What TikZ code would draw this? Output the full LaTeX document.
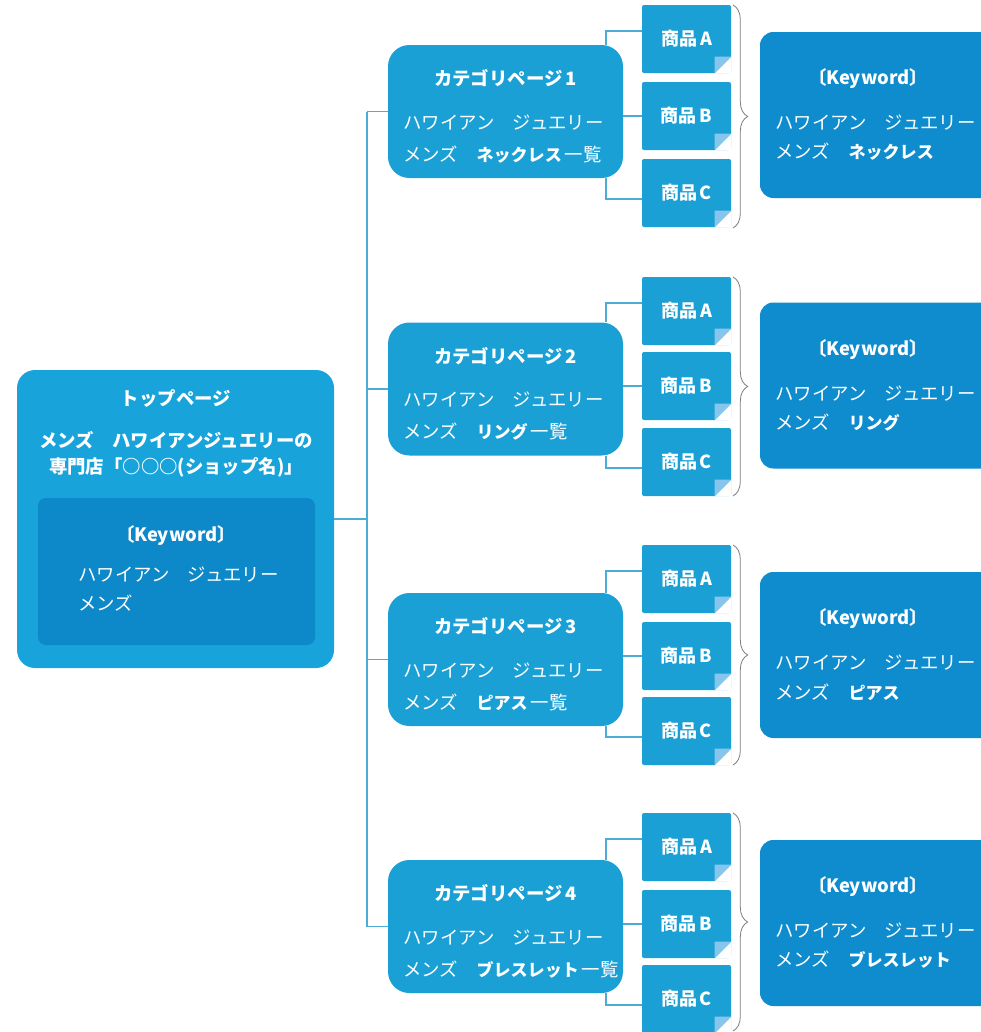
\documentclass[tikz,border=0pt]{standalone}
\usepackage{fontspec}
\setmainfont{Noto Sans CJK JP}
\usetikzlibrary{decorations.pathreplacing,calc}
\definecolor{cmain}{RGB}{27,160,214}
\definecolor{ctop}{RGB}{24,164,219}
\definecolor{cinner}{RGB}{13,136,200}
\definecolor{ckw}{RGB}{14,140,205}
\definecolor{cfold}{RGB}{135,198,236}
\definecolor{cline}{RGB}{75,172,214}
\definecolor{cbrace}{RGB}{125,125,125}
\newcommand{\bw}[1]{{\fontsize{12.8}{16}\selectfont\bfseries #1}}
\begin{document}
\begin{tikzpicture}[x=0.75pt,y=-0.75pt,
  catbox/.style={fill=cmain, rounded corners=16pt, inner sep=0pt, minimum width=176.25pt, minimum height=100pt},
  prodbox/.style={fill=cmain, rounded corners=1.5pt, inner sep=0pt, minimum width=66.75pt, minimum height=51pt,
     text=white, font=\fontsize{13.5}{16}\selectfont\bfseries},
  kwbox/.style={fill=ckw, rounded corners=10pt, inner sep=0pt, minimum width=195pt, minimum height=124.5pt},
  txt/.style={text=white, inner sep=0pt, font=\fontsize{13.8}{16}\selectfont},
  btxt/.style={text=white, inner sep=0pt, font=\fontsize{13.8}{16}\selectfont\bfseries},
  conn/.style={draw=cline, line width=1.3pt},
  brc/.style={draw=cbrace, line width=0.6pt, decorate, decoration={brace, amplitude=11pt}},
  fold/.style={fill=cfold}
]
\useasboundingbox (0,0) rectangle (981,1032);
\clip (0,0) rectangle (981,1032);

% top page
\node[fill=ctop, rounded corners=13.5pt, minimum width=237.75pt, minimum height=223.5pt, inner sep=0pt] (top) at (175.5,519) {};
\node[fill=cinner, rounded corners=6pt, minimum width=207.75pt, minimum height=110.25pt, inner sep=0pt] (inner) at (176.5,571.5) {};
\node[btxt] (toptitle) at (176,398) {トップページ};
\node[btxt] (topl1) at (176,440) {メンズ　ハワイアンジュエリーの};
\node[btxt] (topl2) at (176,467) {専門店「○○○(ショップ名)」};
\node[btxt] (topkw) at (176,536) {〔Keyword〕};
\node[txt, anchor=west] (topk1) at (78,575) {ハワイアン　ジュエリー};
\node[txt, anchor=west] (topk2) at (78,603) {メンズ};

\foreach \i/\cy/\pa/\pb/\pc/\kc/\bt/\bb/\w in {
  1/111.5/39/116/193/115/5/228/ネックレス,
  2/389/311/386/462/385.5/277/496/リング,
  3/659.5/579/656/731/655/545/765/ピアス,
  4/926.5/847/924/999/923/813/1031/ブレスレット}{
  % category
  \node[catbox, minimum height=99.75pt] (c\i) at (505.5,\cy) {};
  \node[btxt] (ct\i) at (505.5,\cy-33) {カテゴリページ\,\i};
  \node[txt, anchor=west] (cl\i) at (403,\cy+11) {ハワイアン　ジュエリー};
  \node[txt, anchor=west] (cm\i) at (403,\cy+43) {メンズ　\bw{\w}\,一覧};
  % products
  \node[prodbox] (pa\i) at (686.5,\pa) {商品\,A};
  \node[prodbox] (pb\i) at (686.5,\pb) {商品\,B};
  \node[prodbox] (pc\i) at (686.5,\pc) {商品\,C};
  \foreach \p in {pa\i,pb\i,pc\i}{
    \fill[white] (\p.south east) -- ([xshift=-12.5pt]\p.south east) -- ([yshift=12.5pt]\p.south east) -- cycle;
    \fill[fold] ([xshift=-12.5pt]\p.south east) -- ([yshift=12.5pt]\p.south east) -- ([xshift=-12.5pt,yshift=12.5pt]\p.south east) -- cycle;
  }
  % connectors category -> products
  \draw[conn] ([xshift=-12.75pt]c\i.north east) |- ([yshift=6pt]pa\i.west);
  \draw[conn] (c\i.east |- pb\i.west) -- (pb\i.west);
  \draw[conn] ([xshift=-12.75pt]c\i.south east) |- ([yshift=-4.5pt]pc\i.west);
  % brace
  \draw[brc] (733,\bt) -- (733,\bb);
  % keyword box
  \node[kwbox, minimum height=124.5pt] (k\i) at (890,\kc) {};
  \node[btxt] (kt\i) at (868,\kc-36) {〔Keyword〕};
  \node[txt, anchor=west] (kl\i) at (775,\kc+8) {ハワイアン　ジュエリー};
  \node[txt, anchor=west] (km\i) at (775,\kc+37) {メンズ　\bw{\w}};
  % junction on trunk
  \coordinate (j\i) at (367,\cy);
  \draw[conn] (j\i) -- (c\i.west);
}
\draw[conn] (j1) -- (j4);
\draw[conn] (top.east) -- (top.east -| j1);
\end{tikzpicture}
\end{document}
